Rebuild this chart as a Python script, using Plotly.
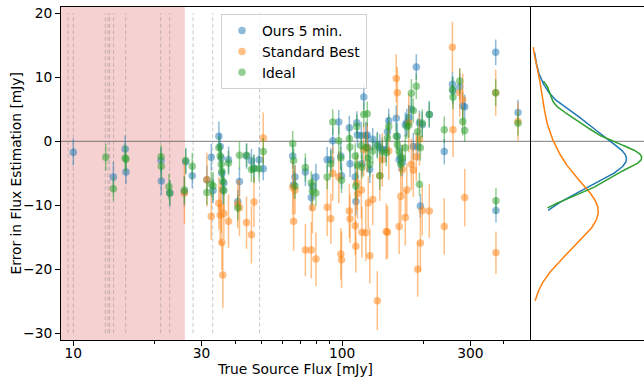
import numpy as np
import plotly.graph_objects as go

# ---------------- data ----------------
flux = [10.0, 13.2, 14.1, 15.6, 15.7, 21.2, 21.25, 22.7, 22.85, 25.9, 26.2, 27.7, 31.4, 32.6, 33.1,
        34.8, 35.2, 35.5, 35.7, 36.0, 36.3, 37.8, 40.9, 41.5, 44.1, 46.0, 47.0, 49.1, 50.9, 65.5,
        66.0, 66.8, 73.0, 76.8, 77.5, 79.9, 88.0, 90.8, 92.3, 97.2, 98.9, 99.5, 106.4, 107.0, 111.9,
        112.5, 113.4, 114.0, 117.9, 118.5, 120.4, 122.5, 124.0, 125.1, 126.8, 130.0, 135.2, 138.1,
        141.1, 146.0, 147.5, 149.1, 159.0, 160.5, 163.0, 165.3, 167.5, 171.8, 174.0, 177.0, 181.0,
        184.0, 188.8, 191.0, 194.0, 195.5, 198.7, 211.0, 239.9, 257.3, 258.5, 273.9, 281.0, 285.8,
        372.7, 373.5, 451.1]

ours_5min = [-1.7, None, -5.6, -1.2, -4.8, -3.0, -6.2, None, -8.1, -7.9, -3.2, -5.4, -6.0, -2.5, -7.7,
             0.8, -0.8, -2.6, -5.0, -7.6, -6.5, -2.9, -9.4, -6.3, -2.3, -3.1, -4.2, -2.9, -4.3, -2.3,
             -6.8, -5.6, -4.8, -8.8, -7.0, -5.6, -2.9, -2.9, 0.1, 3.0, -2.3, -5.4, 2.1, -3.5, -5.6,
             -9.4, 2.9, 1.0, 0.9, -3.5, 6.9, 0.9, 1.0, -1.0, -4.4, 0.3, -0.5, -1.0,
             -1.3, -1.3, 1.5, 3.2, 3.6, 0.8, -2.9, -2.6, -3.3, 2.6, 2.9, 3.7, 5.0,
             -0.8, 11.6, -0.8, 2.9, -10.1, 2.6, 4.2, -1.6, 8.9, 7.9, 8.5, 5.5, 5.4,
             13.9, -10.8, 4.5]

standard_best = [None, None, None, None, None, None, None, None, None, -8.1, None, None, -6.0, -11.7, None,
                 -9.7, -11.5, -10.4, -15.8, -20.9, -11.3, -12.5, -9.8, -10.4, -12.7, -14.6, -9.5, None, 0.5, -7.2,
                 -12.5, -7.6, -17.0, -17.0, -10.4, -18.4, -10.3, -12.1, -5.0, -5.6, -17.6, -18.5, -10.9, -12.1, -13.2,
                 -16.4, -6.5, -8.2, -7.6, -14.2, -1.3, -14.3, -1.0, -9.6, -17.9, -9.1, -24.9, -5.4,
                 -2.9, -14.1, -14.2, -1.5, 9.8, 7.6, -13.3, -8.6, -4.4, -11.9, -7.6, 2.9, -3.6,
                 -4.5, -2.4, -20.0, 0.3, -15.9, -10.8, -10.9, -13.3, 14.7, 1.8, 7.6, 6.5, -8.8,
                 7.6, -17.4, 3.1]

ideal = [None, -2.5, -7.4, -2.6, -2.8, -2.4, -3.9, -7.1, -8.1, -7.6, -3.0, -3.9, -8.0, -6.7, -7.0,
         -1.0, -2.3, -3.6, -4.7, -6.3, -7.7, -3.4, -10.4, -2.2, -2.2, -4.4, -4.3, -4.3, -1.6, -0.4,
         -3.0, -7.0, -4.1, -6.5, -7.8, -8.1, -5.6, -3.5, 3.0, 0.1, -2.6, -6.1, 0.4, -0.9, -2.3,
         -7.0, 2.3, -3.7, -0.7, -4.0, 4.2, -1.0, 4.3, -2.6, -3.6, -1.5, -0.7, -5.4,
         -1.6, -1.8, 0.5, 2.3, 0.8, -0.5, -1.6, -3.6, -2.6, -1.0, 2.3, 2.5, 7.5,
         4.8, 8.6, 1.5, -6.7, -1.0, 2.8, 4.2, 1.8, 8.1, 6.9, 9.4, 3.1, 1.7,
         7.6, -9.3, 2.8]

ours_err = [2.1, 2.0, 2.4, 2.1, 1.9, 2.0, 2.2, 2.0, 2.1, 2.3, 2.0, 1.9, 2.2, 2.1, 2.0,
            2.3, 2.0, 2.1, 1.9, 2.2, 2.0, 2.1, 1.8, 2.2, 2.0, 1.9, 2.1, 2.0, 1.8, 2.0,
            2.1, 1.9, 2.2, 2.0, 1.9, 2.1, 2.0, 1.8, 2.1, 1.9, 2.2, 2.0, 1.9, 2.1, 2.0,
            2.2, 1.8, 2.0, 2.1, 1.9, 2.0, 2.2, 1.9, 2.0, 2.1, 1.8, 2.0, 2.1, 1.9, 2.0,
            2.2, 1.9, 2.0, 2.1, 1.8, 2.0, 2.2, 1.9, 2.1, 2.0, 1.9, 2.1, 2.0, 2.2, 1.9,
            1.8, 2.0, 2.1, 2.0, 1.9, 2.2, 2.0, 2.1, 1.9, 2.0, 1.9, 2.0]

standard_err = [4.2, 4.0, 4.5, 3.8, 4.4, 4.6, 4.1, 3.9, 4.3, 4.8, 4.0, 4.4, 4.2, 3.7, 4.5,
                4.1, 4.6, 3.9, 4.3, 5.2, 4.0, 4.2, 3.8, 4.4, 4.1, 4.5, 3.9, 4.2, 4.0, 4.3,
                4.6, 3.8, 4.1, 4.4, 4.0, 4.2, 4.5, 3.9, 4.3, 4.1, 4.0, 4.4, 4.2, 3.8, 4.6,
                4.1, 4.3, 3.9, 4.5, 4.0, 4.2, 4.4, 3.8, 4.1, 4.3, 4.0, 4.6, 3.9, 4.2, 4.4,
                4.1, 4.5, 3.8, 4.0, 4.3, 4.2, 3.9, 4.4, 4.1, 4.6, 4.0, 4.2, 3.8, 4.3, 4.1,
                4.5, 3.9, 4.2, 4.4, 4.0, 4.3, 3.8, 4.1, 4.5, 3.6, 3.3, 3.0]

ideal_err = [2.0, 2.1, 1.9, 2.2, 2.0, 1.8, 2.1, 2.0, 1.9, 2.2, 2.0, 2.1, 1.9, 2.0, 2.2,
             1.8, 2.0, 2.1, 1.9, 2.0, 2.2, 1.9, 2.0, 2.1, 1.8, 2.0, 2.2, 1.9, 2.1, 2.0,
             1.9, 2.0, 2.2, 1.8, 2.1, 2.0, 1.9, 2.1, 2.0, 2.2, 1.8, 2.0, 2.1, 1.9, 2.0,
             2.2, 1.9, 2.0, 2.1, 1.8, 2.0, 2.2, 1.9, 2.1, 2.0, 1.9, 2.0, 2.2, 1.8, 2.1,
             2.0, 1.9, 2.1, 2.0, 2.2, 1.8, 2.0, 2.1, 1.9, 2.0, 2.2, 1.9, 2.0, 2.1, 1.8,
             2.0, 2.2, 1.9, 2.1, 2.0, 1.9, 2.0, 2.2, 1.8, 2.1, 2.0, 1.9]

# catalogue source positions marked with dashed lines
marked_flux = [9.56, 10.0, 13.15, 13.46, 13.65, 14.12, 15.66, 21.13, 22.83, 27.9, 33.0, 49.3]
faint_limit = 26.0          # shaded region upper bound (mJy)

series_names = ["Ours 5 min.", "Standard Best", "Ideal"]
series_colors = ["31,119,180", "255,127,14", "44,160,44"]

X_MIN, X_MAX = 9.0, 500.0
Y_MIN, Y_MAX = -31.05, 20.98

for arr in (ours_5min, standard_best, ideal, ours_err, standard_err, ideal_err):
    assert len(arr) == len(flux), len(arr)

FONT = "DejaVu Sans"
FS = 13.8

fig = go.Figure()

series = [(ours_5min, ours_err), (standard_best, standard_err), (ideal, ideal_err)]
for (vals, errs), name, col in zip(series, series_names, series_colors):
    fig.add_trace(go.Scatter(
        x=flux, y=vals, mode="markers", name=name,
        marker=dict(size=7.5, color=f"rgba({col},0.5)", line=dict(width=0)),
        error_y=dict(type="data", array=errs, visible=True, color=f"rgba({col},0.5)",
                     thickness=1.5, width=0),
        xaxis="x", yaxis="y",
    ))


def kde(vals):
    v = np.array([a for a in vals if a is not None], dtype=float)
    n = len(v)
    bw = v.std(ddof=1) * n ** (-1.0 / 5.0)
    grid = np.linspace(v.min(), v.max(), 300)
    dens = np.exp(-0.5 * ((grid[:, None] - v[None, :]) / bw) ** 2).sum(axis=1) / (n * bw * np.sqrt(2 * np.pi))
    return grid, dens


maxd = 0.0
for (vals, _), col in zip(series, series_colors):
    g, d = kde(vals)
    maxd = max(maxd, d.max())
    fig.add_trace(go.Scatter(x=d, y=g, mode="lines", line=dict(color=f"rgb({col})", width=1.5),
                             showlegend=False, hoverinfo="skip", xaxis="x2", yaxis="y"))

# ---------------- layout ----------------
W, H = 644, 377
ML, MR, MT, MB = 61, 0, 7, 37
PW = W - ML - MR
split = (530 - ML) / PW

shapes = [dict(type="rect", xref="x", yref="y domain", x0=X_MIN, x1=faint_limit, y0=0, y1=1,
               fillcolor="rgba(214,39,40,0.21)", line=dict(width=0), layer="below")]
for v in marked_flux:
    shapes.append(dict(type="line", xref="x", yref="y", x0=v, x1=v, y0=-30, y1=20,
                       line=dict(color="rgba(128,128,128,0.42)", width=1, dash="4px,2.5px"), layer="below"))
shapes.append(dict(type="line", xref="paper", yref="y", x0=0, x1=1, y0=0, y1=0,
                   line=dict(color="rgba(80,80,80,0.6)", width=1.2), layer="below"))

fig.update_layout(
    width=W, height=H, margin=dict(l=ML, r=MR, t=MT, b=MB, pad=0),
    paper_bgcolor="white", plot_bgcolor="white",
    font=dict(family=FONT, size=FS, color="black"),
    showlegend=True,
    legend=dict(x=(221 - ML) / PW, y=(340 - 14) / (H - MT - MB), xanchor="left", yanchor="top",
                bgcolor="rgba(255,255,255,0.8)", bordercolor="#d0d0d0", borderwidth=1,
                font=dict(family=FONT, size=FS), tracegroupgap=0),
    xaxis=dict(type="log", domain=[0, split], range=[np.log10(X_MIN), np.log10(X_MAX)],
               tickvals=[10, 30, 100, 300], ticktext=["10", "30", "100", "300"],
               ticks="outside", ticklen=5, tickwidth=1, tickcolor="black", ticklabelstandoff=-5,
               minor=dict(tickvals=[20, 40, 50, 60, 70, 80, 90, 200, 400], ticks="outside",
                          ticklen=3, tickwidth=0.8, tickcolor="black", showgrid=False),
               showgrid=False, zeroline=False, showline=True, linecolor="black", linewidth=1, mirror=True,
               title=dict(text="True Source Flux [mJy]", standoff=8, font=dict(family=FONT, size=FS)),
               anchor="y"),
    yaxis=dict(range=[Y_MIN, Y_MAX], tickvals=[-30, -20, -10, 0, 10, 20],
               ticks="outside", ticklen=5, tickwidth=1, tickcolor="black",
               showgrid=False, zeroline=False, showline=True, linecolor="black", linewidth=1, mirror=True,
               anchor="x"),
    xaxis2=dict(domain=[split, 1], range=[0, maxd * 1.02], anchor="y",
                showticklabels=False, ticks="", showgrid=False, zeroline=False,
                showline=True, linecolor="black", linewidth=1, mirror=True),
    shapes=shapes,
    annotations=[dict(text="Error in Flux Estimation [mJy]", textangle=-90, showarrow=False,
                      xref="paper", yref="paper", x=(15 - ML) / PW, y=0.5,
                      xanchor="center", yanchor="middle",
                      font=dict(family=FONT, size=FS, color="black"))],
)

fig.write_html("out.html")
